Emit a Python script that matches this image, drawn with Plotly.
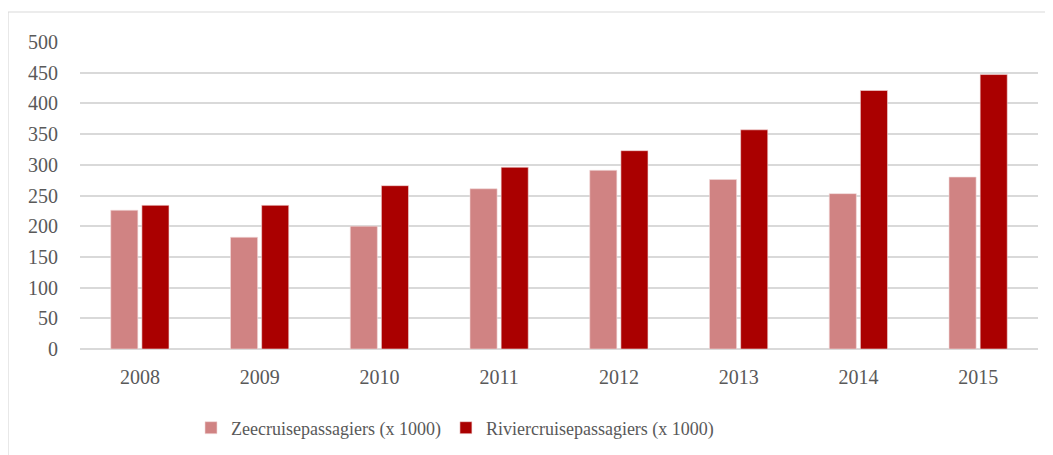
import plotly.graph_objects as go

years = ["2008", "2009", "2010", "2011", "2012", "2013", "2014", "2015"]
zee = [226, 182, 200, 261, 291, 276, 253, 280]
rivier = [234, 234, 266, 296, 323, 357, 421, 447]
names = ["Zeecruisepassagiers (x 1000)", "Riviercruisepassagiers (x 1000)"]
colors = ["#D08383", "#AA0000"]

FONT = "Liberation Serif"
TXT = "#595959"

fig = go.Figure()
for vals, name, col in zip([zee, rivier], names, colors):
    fig.add_trace(go.Bar(
        x=years, y=vals, name=name,
        marker=dict(color=col, line=dict(color="#F2DADA", width=0.6)),
    ))

W, H = 1053, 455
OFF = 8  # page body margin
L, R, T, B = 72, 23, 34, 114
pw, ph = W - L - R, H - T - B

def px(x):
    return (x - OFF - L) / pw

def py(y):
    return (H - B + OFF - y) / ph

fig.update_layout(
    width=W, height=H,
    margin=dict(l=L, r=R, t=T, b=B, autoexpand=False),
    paper_bgcolor="white", plot_bgcolor="white",
    barmode="group", bargap=0.48, bargroupgap=0.13,
    font=dict(family=FONT, size=20, color=TXT),
    showlegend=True,
    legend=dict(orientation="h", x=px(455), xanchor="center",
                y=py(428), yanchor="middle",
                font=dict(family=FONT, size=18, color=TXT),
                traceorder="normal"),
    xaxis=dict(showgrid=False, showline=False, ticks="", ticklabelstandoff=14,
               automargin=False, tickangle=0,
               tickfont=dict(family=FONT, size=20, color=TXT)),
    yaxis=dict(range=[0, 500], dtick=50, showgrid=True, gridcolor="#D9D9D9",
               gridwidth=1.5, zeroline=True, zerolinecolor="#D9D9D9",
               zerolinewidth=1.5, showline=False, ticks="", ticklabelstandoff=21,
               automargin=False,
               tickfont=dict(family=FONT, size=20, color=TXT)),
    shapes=[dict(type="rect", xref="paper", yref="paper",
                 x0=px(8), x1=px(1070), y0=py(470), y1=py(12),
                 line=dict(color="#D9D9D9", width=1.2), layer="below")],
)

fig.write_html("out.html")
